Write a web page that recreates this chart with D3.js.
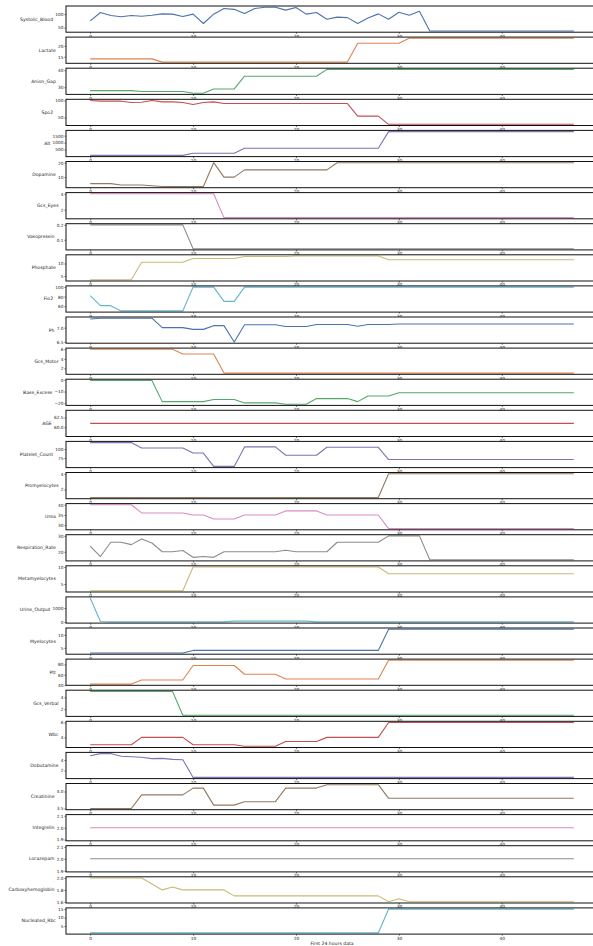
<!DOCTYPE html>
<html><head><meta charset="utf-8">
<script src="https://cdn.jsdelivr.net/npm/d3@7"></script>
<style>
body{margin:0;background:#fff}
svg{display:block}
text{font-family:"DejaVu Sans",sans-serif}
</style>
</head><body>
<svg id="chart" width="593" height="946"></svg>
<script>
// ---------- DATA ----------
const timeSteps = d3.range(0, 48);
const seriesNames = ["Systolic_Blood","Lactate","Anion_Gap","Spo2","Alt","Dopamine","Gcs_Eyes","Vasopressin","Phosphate","Fio2","Ph","Gcs_Motor","Base_Excess","AGE","Platelet_Count","Promyelocytes","Urea","Respiration_Rate","Metamyelocytes","Urine_Output","Myelocytes","Ptt","Gcs_Verbal","Wbc","Dobutamine","Creatinine","Integrelin","Lorazepam","Carboxyhemoglobin","Nucleated_Rbc"];
const palette = ["#4C72B0","#DD8452","#55A868","#C44E52","#8172B3","#937860","#DA8BC3","#8C8C8C","#CCB974","#64B5CD"];

const systolicBlood = [75,106,95,90,95,92,96,101,100,91,100,65,100,121,118,102,121,126,126,115,125,100,106,81,89,87,65,86,101,81,107,96,111,37,37,37,37,37,37,37,37,37,37,37,37,37,37,37];
const lactate = [14,14,14,14,14,14,14,12.5,12.5,12.5,12.5,12.5,12.5,12.5,12.5,12.5,12.5,12.5,12.5,12.5,12.5,12.5,12.5,12.5,12.5,12.5,21.2,21.2,21.2,21.2,21.2,23.5,23.5,23.5,23.5,23.5,23.5,23.5,23.5,23.5,23.5,23.5,23.5,23.5,23.5,23.5,23.5,23.5];
const anionGap = [28,28,28,28,28,27.5,27.5,27.5,27.5,27.5,26.5,26.5,29,29,29,36.5,36.5,36.5,36.5,36.5,36.5,36.5,36.5,40.5,40.5,40.5,40.5,40.5,40.5,40.5,40.5,40.5,40.5,40.5,40.5,40.5,40.5,40.5,40.5,40.5,40.5,40.5,40.5,40.5,40.5,40.5,40.5,40.5];
const spo2 = [100,98,98,98,94,95,100,96,96,94,88,94,96,91,91,91,91,91,91,91,91,91,91,91,91,91,54,54,54,30,30,30,30,30,30,30,30,30,30,30,30,30,30,30,30,30,30,30];
const alt = [80,80,80,80,80,80,80,80,80,80,230,230,230,230,230,590,590,590,590,590,590,590,590,590,590,590,590,590,590,1790,1790,1790,1790,1790,1790,1790,1790,1790,1790,1790,1790,1790,1790,1790,1790,1790,1790,1790];
const dopamine = [5.5,5.5,5.5,4.5,4.5,4.5,4,3.5,3.5,3.5,3.5,3.5,20,10,10,15,15,15,15,15,15,15,15,15,20,20,20,20,20,20,20,20,20,20,20,20,20,20,20,20,20,20,20,20,20,20,20,20];
const gcsEyes = [4,4,4,4,4,4,4,4,4,4,4,4,4,1,1,1,1,1,1,1,1,1,1,1,1,1,1,1,1,1,1,1,1,1,1,1,1,1,1,1,1,1,1,1,1,1,1,1];
const vasopressin = [0.2,0.2,0.2,0.2,0.2,0.2,0.2,0.2,0.2,0.2,0.04,0.04,0.04,0.04,0.04,0.04,0.04,0.04,0.04,0.04,0.04,0.04,0.04,0.04,0.04,0.04,0.04,0.04,0.04,0.04,0.04,0.04,0.04,0.04,0.04,0.04,0.04,0.04,0.04,0.04,0.04,0.04,0.04,0.04,0.04,0.04,0.04,0.04];
const phosphate = [3.5,3.5,3.5,3.5,3.5,10.5,10.5,10.5,10.5,10.5,12,12,12,12,12,12.8,12.8,12.8,12.8,12.8,13,13,13,13,13,13,13,13,13,11.5,11.5,11.5,11.5,11.5,11.5,11.5,11.5,11.5,11.5,11.5,11.5,11.5,11.5,11.5,11.5,11.5,11.5,11.5];
const fio2 = [82,61,61,50,50,50,50,50,50,50,100,100,100,70,70,100,100,100,100,100,100,100,100,100,100,100,100,100,100,100,100,100,100,100,100,100,100,100,100,100,100,100,100,100,100,100,100,100];
const phValues = [7.3,7.33,7.33,7.33,7.33,7.33,7.33,7.0,7.0,7.0,6.94,6.94,7.07,7.07,6.5,7.1,7.1,7.1,7.1,7.04,7.04,7.04,7.11,7.11,7.11,7.11,7.05,7.11,7.11,7.11,7.13,7.13,7.13,7.13,7.13,7.13,7.13,7.13,7.13,7.13,7.13,7.13,7.13,7.13,7.13,7.13,7.13,7.13];
const gcsMotor = [6,6,6,6,6,6,6,6,6,5,5,5,5,1,1,1,1,1,1,1,1,1,1,1,1,1,1,1,1,1,1,1,1,1,1,1,1,1,1,1,1,1,1,1,1,1,1,1];
const baseExcess = [-0.5,-0.5,-0.5,-0.5,-0.5,-0.5,-0.5,-18.6,-18.6,-18.6,-18.6,-18.6,-16.8,-16.8,-16.8,-19.7,-19.7,-19.7,-19.7,-20.8,-20.8,-20.8,-16,-16,-16,-16,-18.6,-13.8,-13.8,-13.8,-11,-11,-11,-11,-11,-11,-11,-11,-11,-11,-11,-11,-11,-11,-11,-11,-11,-11];
const age = [61,61,61,61,61,61,61,61,61,61,61,61,61,61,61,61,61,61,61,61,61,61,61,61,61,61,61,61,61,61,61,61,61,61,61,61,61,61,61,61,61,61,61,61,61,61,61,61];
const plateletCount = [118,118,118,118,118,103,103,103,103,103,89,89,52,52,52,106,106,106,106,83,83,83,83,105,105,105,105,105,105,71,71,71,71,71,71,71,71,71,71,71,71,71,71,71,71,71,71,71];
const promyelocytes = [1,1,1,1,1,1,1,1,1,1,1,1,1,1,1,1,1,1,1,1,1,1,1,1,1,1,1,1,1,4,4,4,4,4,4,4,4,4,4,4,4,4,4,4,4,4,4,4];
const urea = [40,40,40,40,40,36,36,36,36,36,35,35,33,33,33,35,35,35,35,37,37,37,37,35,35,35,35,35,35,28.3,28.3,28.3,28.3,28.3,28.3,28.3,28.3,28.3,28.3,28.3,28.3,28.3,28.3,28.3,28.3,28.3,28.3,28.3];
const respirationRate = [23.5,17,26,26,24.5,28,25.5,20,20,20.8,16.5,17,16.5,20,20,20,20,20,20,21,20,20,20,20,26,26,26,26,26,30,30,30,30,15,15,15,15,15,15,15,15,15,15,15,15,15,15,15];
const metamyelocytes = [3,3,3,3,3,3,3,3,3,3,10,10,10,10,10,10,10,10,10,10,10,10,10,10,10,10,10,10,10,8,8,8,8,8,8,8,8,8,8,8,8,8,8,8,8,8,8,8];
const urineOutput = [1700,40,15,15,15,15,15,15,15,15,15,15,15,15,70,70,70,70,70,70,70,70,15,15,15,15,15,15,15,15,15,15,15,15,15,15,15,15,15,15,15,15,15,15,15,15,15,15];
const myelocytes = [3,3,3,3,3,3,3,3,3,3,4,4,4,4,4,4,4,4,4,4,4,4,4,4,4,4,4,4,4,12.2,12.2,12.2,12.2,12.2,12.2,12.2,12.2,12.2,12.2,12.2,12.2,12.2,12.2,12.2,12.2,12.2,12.2,12.2];
const ptt = [42,42,42,42,42,50,50,50,50,50,78,78,78,78,78,61,61,61,61,52,52,52,52,52,52,52,52,52,52,88,88,88,88,88,88,88,88,88,88,88,88,88,88,88,88,88,88,88];
const gcsVerbal = [5,5,5,5,5,5,5,5,5,1,1,1,1,1,1,1,1,1,1,1,1,1,1,1,1,1,1,1,1,1,1,1,1,1,1,1,1,1,1,1,1,1,1,1,1,1,1,1];
const wbc = [3,3,3,3,3,4,4,4,4,4,3,3,3,3,3,2.8,2.8,2.8,2.8,3.45,3.45,3.45,3.45,4,4,4,4,4,4,6,6,6,6,6,6,6,6,6,6,6,6,6,6,6,6,6,6,6];
const dobutamine = [4.8,5.2,5.2,4.7,4.6,4.5,4.25,4.3,4.1,4.05,0.7,0.7,0.7,0.7,0.7,0.7,0.7,0.7,0.7,0.7,0.7,0.7,0.7,0.7,0.7,0.7,0.7,0.7,0.7,0.7,0.7,0.7,0.7,0.7,0.7,0.7,0.7,0.7,0.7,0.7,0.7,0.7,0.7,0.7,0.7,0.7,0.7,0.7];
const creatinine = [3.5,3.5,3.5,3.5,3.5,3.9,3.9,3.9,3.9,3.9,4.1,4.1,3.6,3.6,3.6,3.7,3.7,3.7,3.7,4.1,4.1,4.1,4.1,4.2,4.2,4.2,4.2,4.2,4.2,3.8,3.8,3.8,3.8,3.8,3.8,3.8,3.8,3.8,3.8,3.8,3.8,3.8,3.8,3.8,3.8,3.8,3.8,3.8];
const integrelin = [2,2,2,2,2,2,2,2,2,2,2,2,2,2,2,2,2,2,2,2,2,2,2,2,2,2,2,2,2,2,2,2,2,2,2,2,2,2,2,2,2,2,2,2,2,2,2,2];
const lorazepam = [2,2,2,2,2,2,2,2,2,2,2,2,2,2,2,2,2,2,2,2,2,2,2,2,2,2,2,2,2,2,2,2,2,2,2,2,2,2,2,2,2,2,2,2,2,2,2,2];
const carboxyhemoglobin = [2,2,2,2,2,2,1.9,1.8,1.85,1.8,1.8,1.8,1.8,1.8,1.7,1.7,1.7,1.7,1.7,1.7,1.7,1.7,1.7,1.7,1.7,1.7,1.7,1.7,1.7,1.6,1.65,1.6,1.6,1.6,1.6,1.6,1.6,1.6,1.6,1.6,1.6,1.6,1.6,1.6,1.6,1.6,1.6,1.6];
const nucleatedRbc = [1,1,1,1,1,1,1,1,1,1,1,1,1,1,1,1,1,1,1,1,1,1,1,1,1,1,1,1,1,15,15,15,15,15,15,15,15,15,15,15,15,15,15,15,15,15,15,15];

const seriesValues = [systolicBlood,lactate,anionGap,spo2,alt,dopamine,gcsEyes,vasopressin,phosphate,fio2,phValues,gcsMotor,baseExcess,age,plateletCount,promyelocytes,urea,respirationRate,metamyelocytes,urineOutput,myelocytes,ptt,gcsVerbal,wbc,dobutamine,creatinine,integrelin,lorazepam,carboxyhemoglobin,nucleatedRbc];

const xTickValues = [0,10,20,30,40];
const yTickLabels = [
  ["50","100"],["15","20"],["30","40"],["50","100"],["500","1000","1500"],
  ["10","20"],["2","4"],["0.1","0.2"],["5","10"],["60","80","100"],
  ["6.5","7.0"],["2","4","6"],["\u221220","\u221210","0"],["60.0","62.5"],["75","100"],
  ["2","4"],["30","35","40"],["20","30"],["5","10"],["0","1000"],
  ["5","10"],["40","60","80"],["2","4"],["4","6"],["2","4"],
  ["3.5","4.0"],["1.9","2.0","2.1"],["1.9","2.0","2.1"],["1.6","1.8","2.0"],["5","10","15"]
];
const xAxisTitle = "First 24 hours data";

// ---------- LAYOUT ----------
const svg = d3.select("#chart");
const left = 66, right = 598, top0 = 6, pitch = 31.1, panelH = 26.2;
const tickFont = 4.3, labelFont = 4.6;

const x = d3.scaleLinear().domain([-2.35, 49.35]).range([left, right]);

function padDomain(vals){
  let lo = d3.min(vals), hi = d3.max(vals);
  if (lo === hi){ const e = Math.abs(lo)*0.05 || 1; lo -= e; hi += e; }
  const r = hi - lo;
  return [lo - 0.05*r, hi + 0.05*r];
}

seriesNames.forEach((name, i) => {
  const vals = seriesValues[i];
  const g = svg.append("g").attr("transform", `translate(0,${top0 + i*pitch})`);
  g.append("rect").attr("x", left).attr("y", 0).attr("width", right-left).attr("height", panelH).attr("fill", "#fff");
  const y = d3.scaleLinear().domain(padDomain(vals)).range([panelH, 0]);

  g.append("path")
    .datum(timeSteps.map((t, k) => [t, vals[k]]))
    .attr("fill", "none")
    .attr("stroke", palette[i % palette.length])
    .attr("stroke-width", 1.1)
    .attr("stroke-linejoin", "round")
    .attr("d", d3.line().x(d => x(d[0])).y(d => y(d[1])));

  const xa = g.append("g").attr("transform", `translate(0,${panelH})`)
    .call(d3.axisBottom(x).tickValues(xTickValues).tickSize(1.6).tickPadding(0.8).tickFormat(d3.format("d")));
  xa.select(".domain").remove();
  xa.selectAll("line").attr("stroke", "#222").attr("stroke-width", 0.6);
  xa.selectAll("text").attr("font-size", tickFont).attr("fill", "#222").attr("font-family", "DejaVu Sans");

  const labels = yTickLabels[i];
  const tv = labels.map(s => parseFloat(s.replace("\u2212", "-")));
  const ya = g.append("g").attr("transform", `translate(${left},0)`)
    .call(d3.axisLeft(y).tickValues(tv).tickSize(1.6).tickPadding(0.9).tickFormat((d, j) => labels[j]));
  ya.select(".domain").remove();
  ya.selectAll("line").attr("stroke", "#222").attr("stroke-width", 0.6);
  ya.selectAll("text").attr("font-size", tickFont).attr("fill", "#222").attr("font-family", "DejaVu Sans");

  g.append("rect").attr("x", left).attr("y", 0).attr("width", right-left).attr("height", panelH)
    .attr("fill", "none").attr("stroke", "#111").attr("stroke-width", 1);

  const bb = ya.node().getBBox();
  g.append("text")
    .attr("x", left + bb.x - 2.2)
    .attr("y", panelH/2)
    .attr("text-anchor", "end")
    .attr("dominant-baseline", "central")
    .attr("font-size", labelFont)
    .attr("fill", "#222")
    .text(name);
});

svg.append("text")
  .attr("x", (left + right)/2)
  .attr("y", 944.5)
  .attr("text-anchor", "middle")
  .attr("font-size", labelFont)
  .attr("fill", "#222")
  .text(xAxisTitle);
</script>
</body></html>
